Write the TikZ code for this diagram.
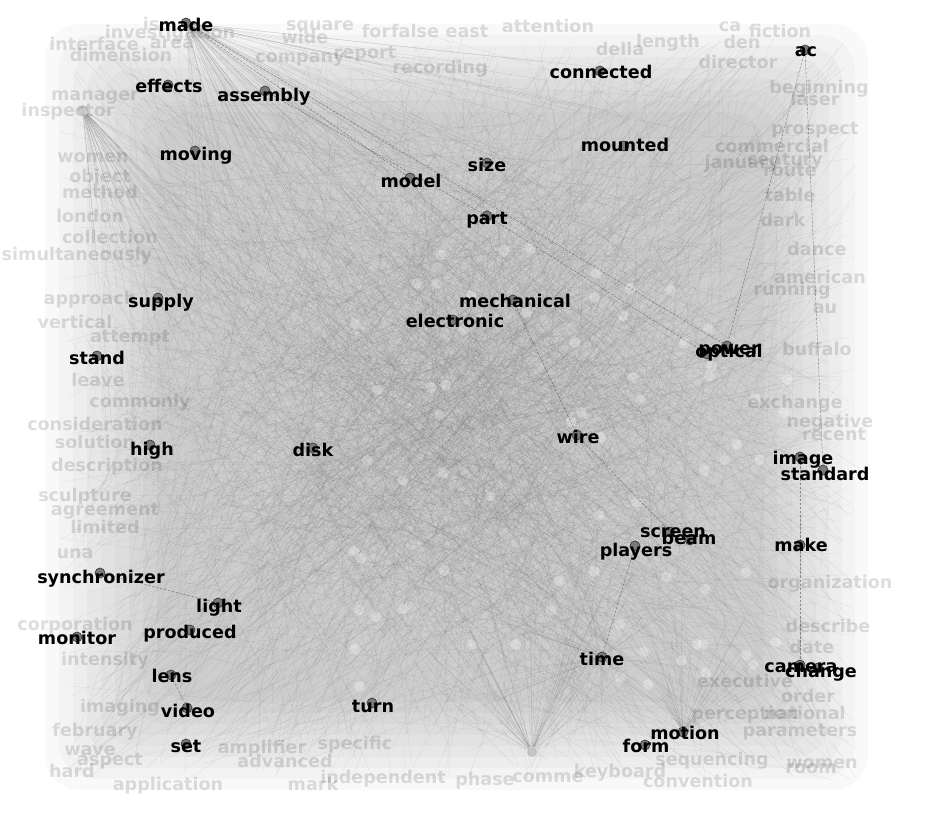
\documentclass[tikz,border=0pt]{standalone}
\usepackage{fontspec}
\setmainfont{DejaVu Sans}
\usepackage{xcolor}
\definecolor{meshGray}{HTML}{6E6E6E}
\definecolor{dotFill}{HTML}{7A7A7A}
\definecolor{dotDraw}{HTML}{3A3A3A}
\usepackage{tikz}
\usetikzlibrary{positioning, calc}

\begin{document}
\begin{tikzpicture}[
        x=0.02cm, y=-0.02cm,
        wordNode/.style={
            font=\bfseries\fontsize{10}{12}\selectfont,
            text=black,
            anchor=base,
            inner sep=0pt
        },
        fadeNode/.style={
            font=\bfseries\fontsize{10}{12}\selectfont,
            text=black,
            text opacity=0.13,
            anchor=base,
            inner sep=0pt
        },
        dotNode/.style={
            circle,
            fill=dotFill,
            draw=dotDraw,
            line width=0.4pt,
            minimum size=2mm,
            inner sep=0pt
        },
        hubDot/.style={
            circle,
            fill=black,
            fill opacity=0.15,
            minimum size=2mm,
            inner sep=0pt
        },
        softDot/.style={
            circle,
            fill=white,
            fill opacity=0.28,
            minimum size=2.2mm,
            inner sep=0pt
        },
        hazeLayer/.style={
            fill=black,
            fill opacity=0.022,
            rounded corners=20pt
        },
        meshLine/.style={
            meshGray,
            line width=0.12pt,
            opacity=0.2
        },
        fanLine/.style={
            meshGray,
            line width=0.15pt,
            opacity=0.28
        },
        edgeLine/.style={
            dotDraw,
            line width=0.3pt,
            opacity=0.5,
            dash pattern=on 1.5pt off 0.8pt
        }
    ]
    \useasboundingbox (0,0) rectangle (941,813);
    \pgfmathsetseed{7}

    % Haze behind the graph
    \foreach \s in {0,...,8}
        \fill[hazeLayer] (45+14*\s, 24+11*\s) rectangle (868-13*\s, 790-11*\s);

    % Edge mesh
    \foreach \k in {1,...,2200} {
        \pgfmathsetmacro{\xa}{60+800*rnd}
        \pgfmathsetmacro{\ya}{35+745*rnd}
        \pgfmathsetmacro{\xb}{60+400*(rnd+rnd)}
        \pgfmathsetmacro{\yb}{35+372*(rnd+rnd)}
        \coordinate (meshA) at (\xa,\ya);
        \coordinate (meshB) at (\xb,\yb);
        \draw[meshLine] (meshA) -- (meshB);
    }

    % Light spots in the middle
    \foreach \k in {1,...,70} {
        \pgfmathsetmacro{\xa}{330+470*rnd}
        \pgfmathsetmacro{\ya}{240+460*rnd}
        \node[softDot] (spot\k) at (\xa,\ya) {};
    }

    % Faded words
    \foreach \px/\py/\w [count=\i] in {
        170/39/investigation, 151/31/is, 94/51/interface, 172/49/area, 121/62/dimension,
        320/31/square, 305/44/wide, 376/38/for, 415/38/false, 467/38/east,
        300/63/company, 365/59/report, 440/74/recording, 548/33/attention, 668/48/length,
        620/56/della, 730/32/ca, 780/38/fiction, 742/49/den, 738/69/director,
        819/94/beginning, 815/106/laser, 815/135/prospect, 772/153/commercial, 742/169/january,
        785/166/century, 790/177/route, 790/202/table, 783/227/dark, 817/256/dance,
        820/284/american, 792/296/running, 825/314/au, 817/356/buffalo, 795/409/exchange,
        830/428/negative, 834/441/recent, 95/101/manager, 68/117/inspector, 93/163/women,
        100/183/object, 100/199/method, 90/223/london, 110/244/collection, 77/261/simultaneously,
        90/305/approach, 75/329/vertical, 130/343/attempt, 98/387/leave, 140/408/commonly,
        95/431/consideration, 95/449/solution, 107/472/description, 85/502/sculpture, 105/516/agreement,
        105/534/limited, 75/559/una, 75/631/corporation, 105/666/intensity, 120/713/imaging,
        95/737/february, 90/756/wave, 110/766/aspect, 72/778/hard, 168/791/application,
        313/791/mark, 383/784/independent, 285/768/advanced, 262/754/amplifier, 355/750/specific,
        485/786/phase, 548/783/comme, 698/788/convention, 620/778/keyboard, 712/766/sequencing,
        822/769/women, 811/774/room, 800/737/parameters, 805/720/national, 745/720/perception,
        808/703/order, 745/688/executive, 830/589/organization, 828/633/describe, 812/654/date}
        \node[fadeNode] (fade\i) at (\px,\py) {\w};

    % Faded hubs
    \node[hubDot] (inspectorHub) at (83,110) {};
    \node[hubDot] (bottomHub) at (532,752) {};

    % Word nodes
    \node[dotNode] (made) at (186,23) {};
    \node[dotNode] (effects) at (168,85) {};
    \node[dotNode] (assembly) at (265,91) {};
    \node[dotNode] (moving) at (195,151) {};
    \node[dotNode] (model) at (410,178) {};
    \node[dotNode] (size) at (487,163) {};
    \node[dotNode] (part) at (487,216) {};
    \node[dotNode] (connected) at (600,71) {};
    \node[dotNode] (mounted) at (624,146) {};
    \node[dotNode] (ac) at (805,50) {};
    \node[dotNode] (supply) at (158,298) {};
    \node[dotNode] (mechanical) at (513,300) {};
    \node[dotNode] (electronic) at (453,320) {};
    \node[dotNode] (stand) at (97,356) {};
    \node[dotNode] (power) at (727,346) {};
    \node[dotNode] (optical) at (707,354) {};
    \node[dotNode] (wire) at (577,435) {};
    \node[dotNode] (high) at (150,445) {};
    \node[dotNode] (disk) at (313,448) {};
    \node[dotNode] (image) at (800,457) {};
    \node[dotNode] (standard) at (823,470) {};
    \node[dotNode] (screen) at (670,532) {};
    \node[dotNode] (beam) at (690,540) {};
    \node[dotNode] (players) at (635,546) {};
    \node[dotNode] (make) at (800,545) {};
    \node[dotNode] (synchronizer) at (100,573) {};
    \node[dotNode] (light) at (218,603) {};
    \node[dotNode] (produced) at (190,630) {};
    \node[dotNode] (monitor) at (77,637) {};
    \node[dotNode] (lens) at (171,675) {};
    \node[dotNode] (video) at (187,708) {};
    \node[dotNode] (set) at (186,744) {};
    \node[dotNode] (turn) at (372,703) {};
    \node[dotNode] (time) at (602,657) {};
    \node[dotNode] (camera) at (800,665) {};
    \node[dotNode] (change) at (818,668) {};
    \node[dotNode] (motion) at (683,732) {};
    \node[dotNode] (form) at (645,745) {};

    % Fans out of the hubs
    \foreach \k in {1,...,70} {
        \pgfmathsetmacro{\xa}{200+450*rnd}
        \pgfmathsetmacro{\ya}{60+300*rnd}
        \coordinate (fanEnd) at (\xa,\ya);
        \draw[fanLine] (made) -- (fanEnd);
    }
    \foreach \k in {1,...,40} {
        \pgfmathsetmacro{\xa}{90+180*rnd}
        \pgfmathsetmacro{\ya}{150+300*rnd}
        \coordinate (fanEnd) at (\xa,\ya);
        \draw[fanLine] (inspectorHub) -- (fanEnd);
    }
    \foreach \k in {1,...,45} {
        \pgfmathsetmacro{\xa}{420+220*rnd}
        \pgfmathsetmacro{\ya}{560+160*rnd}
        \coordinate (fanEnd) at (\xa,\ya);
        \draw[fanLine] (bottomHub) -- (fanEnd);
    }
    \foreach \k in {1,...,40} {
        \pgfmathsetmacro{\xa}{610+160*rnd}
        \pgfmathsetmacro{\ya}{600+120*rnd}
        \coordinate (fanEnd) at (\xa,\ya);
        \draw[fanLine] (motion) -- (fanEnd);
    }
    \foreach \k in {1,...,40} {
        \pgfmathsetmacro{\xa}{480+240*rnd}
        \pgfmathsetmacro{\ya}{560+180*rnd}
        \coordinate (fanEnd) at (\xa,\ya);
        \draw[fanLine] (time) -- (fanEnd);
    }

    % Stronger links
    \draw[edgeLine] (made) -- (power);
    \draw[edgeLine] (made) -- (model);
    \draw[edgeLine] (ac) -- (power);
    \draw[edgeLine] (ac) -- (standard);
    \draw[edgeLine] (assembly) -- (part);
    \draw[edgeLine] (part) -- (optical);
    \draw[edgeLine] (mechanical) -- (wire);
    \draw[edgeLine] (wire) -- (screen);
    \draw[edgeLine] (time) -- (players);
    \draw[edgeLine] (synchronizer) -- (light);
    \draw[edgeLine] (lens) -- (video);
    \draw[edgeLine] (image) -- (camera);

    % Word labels
    \node[wordNode] (madeText) at (186,32) {made};
    \node[wordNode] (effectsText) at (169,93) {effects};
    \node[wordNode] (assemblyText) at (264,102) {assembly};
    \node[wordNode] (movingText) at (196,161) {moving};
    \node[wordNode] (modelText) at (411,188) {model};
    \node[wordNode] (sizeText) at (487,172) {size};
    \node[wordNode] (partText) at (487,225) {part};
    \node[wordNode] (connectedText) at (601,79) {connected};
    \node[wordNode] (mountedText) at (625,152) {mounted};
    \node[wordNode] (acText) at (806,57) {ac};
    \node[wordNode] (supplyText) at (161,308) {supply};
    \node[wordNode] (mechanicalText) at (515,308) {mechanical};
    \node[wordNode] (electronicText) at (455,328) {electronic};
    \node[wordNode] (standText) at (97,365) {stand};
    \node[wordNode] (powerText) at (729,355) {power};
    \node[wordNode] (opticalText) at (729,358) {optical};
    \node[wordNode] (wireText) at (578,444) {wire};
    \node[wordNode] (highText) at (152,456) {high};
    \node[wordNode] (diskText) at (313,457) {disk};
    \node[wordNode] (imageText) at (803,465) {image};
    \node[wordNode] (standardText) at (825,481) {standard};
    \node[wordNode] (screenText) at (673,538) {screen};
    \node[wordNode] (beamText) at (689,545) {beam};
    \node[wordNode] (playersText) at (636,557) {players};
    \node[wordNode] (makeText) at (801,552) {make};
    \node[wordNode] (synchronizerText) at (101,584) {synchronizer};
    \node[wordNode] (lightText) at (219,613) {light};
    \node[wordNode] (producedText) at (190,639) {produced};
    \node[wordNode] (monitorText) at (77,645) {monitor};
    \node[wordNode] (lensText) at (172,683) {lens};
    \node[wordNode] (videoText) at (188,718) {video};
    \node[wordNode] (setText) at (186,753) {set};
    \node[wordNode] (turnText) at (373,713) {turn};
    \node[wordNode] (timeText) at (602,666) {time};
    \node[wordNode] (cameraText) at (801,673) {camera};
    \node[wordNode] (changeText) at (821,678) {change};
    \node[wordNode] (motionText) at (685,740) {motion};
    \node[wordNode] (formText) at (646,753) {form};

\end{tikzpicture}
\end{document}
